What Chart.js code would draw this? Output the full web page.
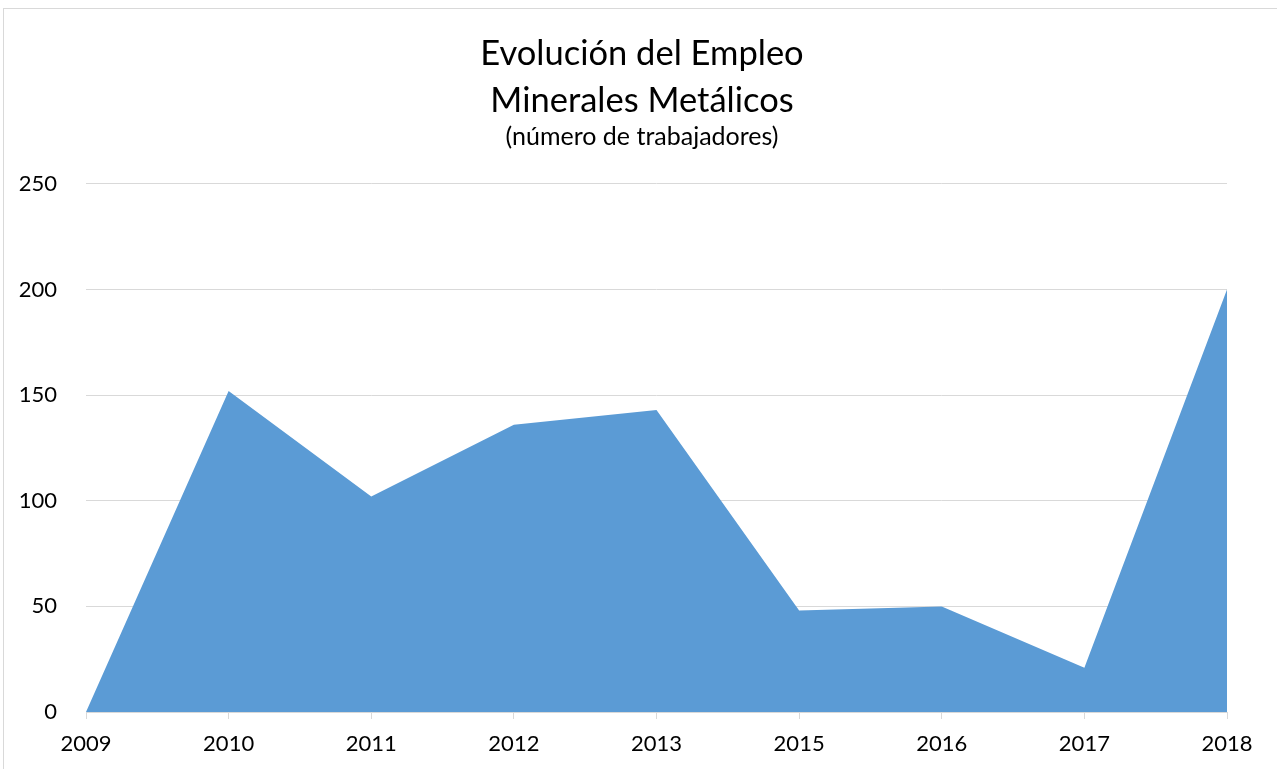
<!DOCTYPE html>
<html>
<head>
<meta charset="utf-8">
<script src="https://cdn.jsdelivr.net/npm/chart.js@4"></script>
<style>
html,body{margin:0;padding:0;background:#fff;}
#wrap{position:absolute;left:0;top:0;width:1277px;height:769px;}
#frame{position:absolute;left:3px;top:8px;width:1300px;height:800px;border:1px solid #d9d9d9;box-sizing:border-box;pointer-events:none;}
</style>
</head>
<body>
<div id="wrap"><canvas id="c" width="1277" height="769"></canvas></div>
<div id="frame"></div>
<script>
const categories = ['2009','2010','2011','2012','2013','2015','2016','2017','2018'];
const workers = [0, 152, 102, 136, 143, 48, 50, 21, 200];
const titleLines = ['Evolución del Empleo', 'Minerales Metálicos'];
const subtitleText = '(número de trabajadores)';

const FONT = 'Lato, "Open Sans", sans-serif';

new Chart(document.getElementById('c'), {
  type: 'line',
  data: {
    labels: categories,
    datasets: [{
      data: workers,
      yAxisID: 'y',
      backgroundColor: '#5b9bd5',
      borderWidth: 0,
      pointRadius: 0,
      fill: 'origin',
      tension: 0
    }]
  },
  options: {
    responsive: false,
    animation: false,
    layout: { padding: { left: 7, right: 0, top: 0, bottom: 0 } },
    plugins: {
      legend: { display: false },
      tooltip: { enabled: false },
      title: {
        display: true,
        text: titleLines,
        color: '#000',
        font: { family: FONT, size: 34.5, weight: 'normal', lineHeight: 1.362 },
        padding: { top: 30, bottom: 0 }
      },
      subtitle: {
        display: true,
        text: subtitleText,
        color: '#000',
        font: { family: FONT, size: 25, weight: 'normal', lineHeight: 1.0 },
        padding: { top: 0, bottom: 35 }
      }
    },
    scales: {
      x: {
        offset: false,
        grid: { drawOnChartArea: false, drawTicks: true, tickLength: 7, color: '#d9d9d9' },
        border: { display: true, color: '#d9d9d9' },
        ticks: { color: '#000', font: { family: FONT, size: 22 }, padding: 12, maxRotation: 0, autoSkip: false },
        afterFit: s => { s.height = 57; }
      },
      y: {
        position: 'left',
        min: 0, max: 250,
        ticks: { stepSize: 50, color: '#000', font: { family: FONT, size: 22 }, padding: 29 },
        grid: { color: '#d9d9d9', drawTicks: false, lineWidth: 1 },
        border: { display: false },
        afterFit: s => { s.width = 79; }
      },
      spacer: {
        type: 'linear',
        position: 'right',
        display: true,
        min: 0, max: 250,
        ticks: { display: false },
        grid: { display: false, drawTicks: false },
        border: { display: false },
        afterFit: s => { s.width = 50; }
      }
    }
  }
});
</script>
</body>
</html>
